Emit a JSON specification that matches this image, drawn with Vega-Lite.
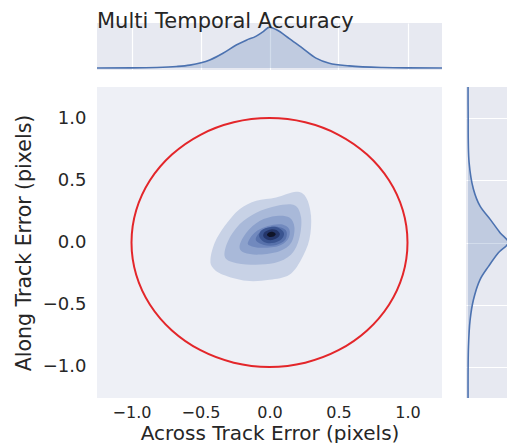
{
  "$schema": "https://vega.github.io/schema/vega-lite/v6.json",
  "padding": {"left": 14, "top": 11, "right": 0, "bottom": 0},
  "columns": 2,
  "spacing": {"row": 17, "column": 24},
  "bounds": "flush",
  "resolve": {"scale": {"x": "independent", "y": "independent"}},
  "config": {
    "font": "DejaVu Sans",
    "view": {"stroke": null, "fill": "#EEF0F6"},
    "axis": {
      "domain": false, "ticks": false, "grid": false,
      "labelFont": "DejaVu Sans", "labelFontSize": 18, "labelColor": "#262626", "labelPadding": 10,
      "titleFont": "DejaVu Sans", "titleFontSize": 21, "titleFontWeight": "normal", "titleColor": "#262626",
      "gridColor": "#ffffff", "gridWidth": 1.2, "gridOpacity": 1
    }
  },
  "datasets": {
    "xmarg": [
      {"x": -1.25, "d": 0}, {"x": -1.0, "d": 0.003}, {"x": -0.818, "d": 0.012}, {"x": -0.674, "d": 0.035},
      {"x": -0.578, "d": 0.07}, {"x": -0.433, "d": 0.195}, {"x": -0.337, "d": 0.36}, {"x": -0.241, "d": 0.56},
      {"x": -0.168, "d": 0.68}, {"x": -0.096, "d": 0.78}, {"x": -0.048, "d": 0.885}, {"x": 0.0, "d": 1.0},
      {"x": 0.048, "d": 0.94}, {"x": 0.144, "d": 0.72}, {"x": 0.241, "d": 0.48}, {"x": 0.337, "d": 0.24},
      {"x": 0.433, "d": 0.115}, {"x": 0.578, "d": 0.05}, {"x": 0.818, "d": 0.01}, {"x": 1.0, "d": 0.002}, {"x": 1.25, "d": 0}
    ],
    "ymarg": [
      {"y": 1.25, "d": 0}, {"y": 1.05, "d": 0.002}, {"y": 0.645, "d": 0.025}, {"y": 0.43, "d": 0.13},
      {"y": 0.294, "d": 0.29}, {"y": 0.186, "d": 0.54}, {"y": 0.079, "d": 0.78}, {"y": 0.0, "d": 0.98},
      {"y": -0.083, "d": 0.74}, {"y": -0.192, "d": 0.5}, {"y": -0.3, "d": 0.29}, {"y": -0.462, "d": 0.13},
      {"y": -0.623, "d": 0.05}, {"y": -0.84, "d": 0.01}, {"y": -1.25, "d": 0}
    ],
    "circle": [
      {"i": 0, "x": 1, "y": 0}, {"i": 1, "x": 0.966, "y": 0.259}, {"i": 2, "x": 0.866, "y": 0.5}, {"i": 3, "x": 0.707, "y": 0.707},
      {"i": 4, "x": 0.5, "y": 0.866}, {"i": 5, "x": 0.259, "y": 0.966}, {"i": 6, "x": 0, "y": 1}, {"i": 7, "x": -0.259, "y": 0.966},
      {"i": 8, "x": -0.5, "y": 0.866}, {"i": 9, "x": -0.707, "y": 0.707}, {"i": 10, "x": -0.866, "y": 0.5}, {"i": 11, "x": -0.966, "y": 0.259},
      {"i": 12, "x": -1, "y": 0}, {"i": 13, "x": -0.966, "y": -0.259}, {"i": 14, "x": -0.866, "y": -0.5}, {"i": 15, "x": -0.707, "y": -0.707},
      {"i": 16, "x": -0.5, "y": -0.866}, {"i": 17, "x": -0.259, "y": -0.966}, {"i": 18, "x": 0, "y": -1}, {"i": 19, "x": 0.259, "y": -0.966},
      {"i": 20, "x": 0.5, "y": -0.866}, {"i": 21, "x": 0.707, "y": -0.707}, {"i": 22, "x": 0.866, "y": -0.5}, {"i": 23, "x": 0.966, "y": -0.259}
    ],
    "contours": [
      {"level": 1, "i": 0, "x": -0.428, "y": -0.138}, {"level": 1, "i": 1, "x": -0.397, "y": -0.003},
      {"level": 1, "i": 2, "x": -0.325, "y": 0.132}, {"level": 1, "i": 3, "x": -0.217, "y": 0.267},
      {"level": 1, "i": 4, "x": -0.096, "y": 0.335}, {"level": 1, "i": 5, "x": 0.048, "y": 0.362},
      {"level": 1, "i": 6, "x": 0.193, "y": 0.408}, {"level": 1, "i": 7, "x": 0.265, "y": 0.362},
      {"level": 1, "i": 8, "x": 0.301, "y": 0.213}, {"level": 1, "i": 9, "x": 0.289, "y": 0.024},
      {"level": 1, "i": 10, "x": 0.229, "y": -0.138}, {"level": 1, "i": 11, "x": 0.144, "y": -0.259},
      {"level": 1, "i": 12, "x": 0.0, "y": -0.3}, {"level": 1, "i": 13, "x": -0.168, "y": -0.308},
      {"level": 1, "i": 14, "x": -0.337, "y": -0.259}, {"level": 1, "i": 15, "x": -0.409, "y": -0.205},
      {"level": 2, "i": 0, "x": -0.325, "y": -0.111}, {"level": 2, "i": 1, "x": -0.301, "y": 0.011},
      {"level": 2, "i": 2, "x": -0.217, "y": 0.146}, {"level": 2, "i": 3, "x": -0.096, "y": 0.24},
      {"level": 2, "i": 4, "x": 0.048, "y": 0.294}, {"level": 2, "i": 5, "x": 0.181, "y": 0.3},
      {"level": 2, "i": 6, "x": 0.229, "y": 0.2}, {"level": 2, "i": 7, "x": 0.217, "y": 0.038},
      {"level": 2, "i": 8, "x": 0.157, "y": -0.097}, {"level": 2, "i": 9, "x": 0.036, "y": -0.165},
      {"level": 2, "i": 10, "x": -0.132, "y": -0.178}, {"level": 2, "i": 11, "x": -0.265, "y": -0.159},
      {"level": 3, "i": 0, "x": -0.217, "y": -0.03}, {"level": 3, "i": 1, "x": -0.168, "y": 0.079},
      {"level": 3, "i": 2, "x": -0.072, "y": 0.173}, {"level": 3, "i": 3, "x": 0.048, "y": 0.213},
      {"level": 3, "i": 4, "x": 0.144, "y": 0.2}, {"level": 3, "i": 5, "x": 0.181, "y": 0.119},
      {"level": 3, "i": 6, "x": 0.157, "y": -0.003}, {"level": 3, "i": 7, "x": 0.072, "y": -0.07},
      {"level": 3, "i": 8, "x": -0.072, "y": -0.097}, {"level": 3, "i": 9, "x": -0.181, "y": -0.083},
      {"level": 4, "i": 0, "x": -0.157, "y": -0.003}, {"level": 4, "i": 1, "x": -0.108, "y": 0.079},
      {"level": 4, "i": 2, "x": -0.012, "y": 0.132}, {"level": 4, "i": 3, "x": 0.084, "y": 0.146},
      {"level": 4, "i": 4, "x": 0.144, "y": 0.105}, {"level": 4, "i": 5, "x": 0.132, "y": 0.024},
      {"level": 4, "i": 6, "x": 0.06, "y": -0.03}, {"level": 4, "i": 7, "x": -0.06, "y": -0.043},
      {"level": 4, "i": 8, "x": -0.132, "y": -0.03},
      {"level": 5, "i": 0, "x": -0.1, "y": 0.024}, {"level": 5, "i": 1, "x": -0.05, "y": 0.1},
      {"level": 5, "i": 2, "x": 0.036, "y": 0.128}, {"level": 5, "i": 3, "x": 0.118, "y": 0.098},
      {"level": 5, "i": 4, "x": 0.115, "y": 0.024}, {"level": 5, "i": 5, "x": 0.048, "y": -0.02},
      {"level": 5, "i": 6, "x": -0.04, "y": -0.02},
      {"level": 6, "i": 0, "x": 0.105, "y": 0.075}, {"level": 6, "i": 1, "x": 0.07, "y": 0.115},
      {"level": 6, "i": 2, "x": 0.01, "y": 0.125}, {"level": 6, "i": 3, "x": -0.055, "y": 0.1},
      {"level": 6, "i": 4, "x": -0.075, "y": 0.05}, {"level": 6, "i": 5, "x": -0.04, "y": 0.005},
      {"level": 6, "i": 6, "x": 0.02, "y": -0.005}, {"level": 6, "i": 7, "x": 0.085, "y": 0.025},
      {"level": 7, "i": 0, "x": 0.075, "y": 0.07}, {"level": 7, "i": 1, "x": 0.05, "y": 0.1},
      {"level": 7, "i": 2, "x": 0.01, "y": 0.105}, {"level": 7, "i": 3, "x": -0.035, "y": 0.085},
      {"level": 7, "i": 4, "x": -0.045, "y": 0.05}, {"level": 7, "i": 5, "x": -0.02, "y": 0.025},
      {"level": 7, "i": 6, "x": 0.02, "y": 0.02}, {"level": 7, "i": 7, "x": 0.06, "y": 0.04},
      {"level": 8, "i": 0, "x": 0.045, "y": 0.068}, {"level": 8, "i": 1, "x": 0.025, "y": 0.085},
      {"level": 8, "i": 2, "x": -0.005, "y": 0.08}, {"level": 8, "i": 3, "x": -0.018, "y": 0.06},
      {"level": 8, "i": 4, "x": 0.0, "y": 0.045}, {"level": 8, "i": 5, "x": 0.03, "y": 0.048}
    ]
  },
  "concat": [
    {
      "width": 345, "height": 47,
      "view": {"fill": "#E7E9F1", "stroke": null},
      "title": {"text": "Multi Temporal Accuracy", "anchor": "start", "frame": "group", "offset": -9, "fontSize": 21, "fontWeight": "normal", "color": "#262626", "font": "DejaVu Sans"},
      "data": {"name": "xmarg"},
      "encoding": {
        "x": {"field": "x", "type": "quantitative", "scale": {"domain": [-1.25, 1.25], "nice": false, "zero": false},
              "axis": {"grid": true, "labels": false, "title": null, "values": [-1, -0.5, 0, 0.5, 1]}},
        "y": {"field": "d", "type": "quantitative", "scale": {"domain": [-0.05, 1.1], "nice": false}, "axis": null}
      },
      "layer": [
        {"mark": {"type": "area", "color": "#4C72B0", "fillOpacity": 0.25, "interpolate": "monotone"}},
        {"mark": {"type": "line", "color": "#4C72B0", "strokeWidth": 1.6, "interpolate": "monotone"}}
      ]
    },
    {
      "width": 41, "height": 47,
      "view": {"fill": null, "stroke": null},
      "data": {"values": [{"a": 0}]},
      "mark": {"type": "point", "opacity": 0},
      "encoding": {}
    },
    {
      "width": 345, "height": 311,
      "encoding": {
        "x": {"field": "x", "type": "quantitative", "scale": {"domain": [-1.25, 1.25], "nice": false, "zero": false},
              "axis": {"values": [-1, -0.5, 0, 0.5, 1], "format": ".1f", "title": "Across Track Error (pixels)", "labelFontSize": 16, "labelPadding": 6, "titlePadding": 3, "titleFontSize": 20}},
        "y": {"field": "y", "type": "quantitative", "scale": {"domain": [-1.25, 1.25], "nice": false, "zero": false},
              "axis": {"values": [-1, -0.5, 0, 0.5, 1], "format": ".1f", "title": "Along Track Error (pixels)", "labelPadding": 11, "titlePadding": 8, "titleFontSize": 20.5}}
      },
      "layer": [
        {
          "data": {"name": "contours"},
          "mark": {"type": "line", "interpolate": "cardinal-closed", "strokeWidth": 0},
          "encoding": {
            "detail": {"field": "level", "type": "ordinal"},
            "order": {"field": "i", "type": "quantitative"},
            "fill": {"field": "level", "type": "ordinal", "legend": null,
                     "scale": {"domain": [1, 2, 3, 4, 5, 6, 7, 8],
                               "range": ["#C8D2E6", "#A9B9D9", "#8CA1CC", "#7189BE", "#5771AB", "#3A5490", "#24366A", "#0F1428"]}}
          }
        },
        {
          "data": {"name": "circle"},
          "mark": {"type": "line", "interpolate": "cardinal-closed", "color": "#E3262A", "strokeWidth": 2},
          "encoding": {"order": {"field": "i", "type": "quantitative"}}
        }
      ]
    },
    {
      "width": 41, "height": 311,
      "view": {"fill": "#E7E9F1", "stroke": null},
      "data": {"name": "ymarg"},
      "encoding": {
        "y": {"field": "y", "type": "quantitative", "scale": {"domain": [-1.25, 1.25], "nice": false, "zero": false},
              "axis": {"grid": true, "labels": false, "title": null, "values": [-1, -0.5, 0, 0.5, 1]}},
        "x": {"field": "d", "type": "quantitative", "scale": {"domain": [-0.05, 0.95], "nice": false}, "axis": null}
      },
      "layer": [
        {"mark": {"type": "area", "orient": "horizontal", "color": "#4C72B0", "fillOpacity": 0.25, "interpolate": "catmull-rom", "clip": true}},
        {"mark": {"type": "line", "color": "#4C72B0", "strokeWidth": 1.6, "interpolate": "catmull-rom", "clip": true},
         "encoding": {"order": {"field": "y", "type": "quantitative"}}}
      ]
    }
  ]
}
